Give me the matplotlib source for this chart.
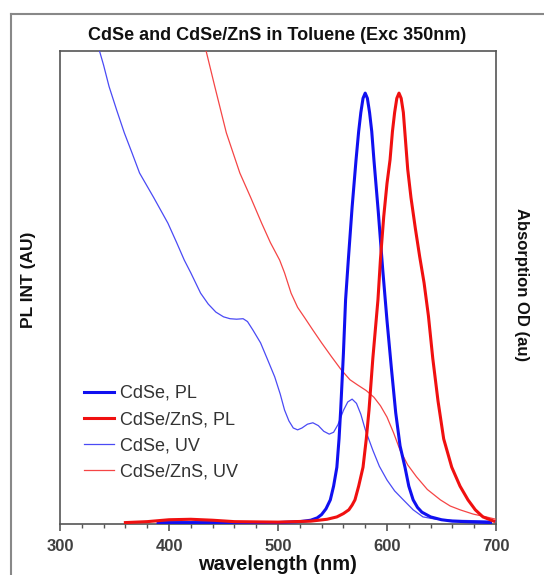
import matplotlib
matplotlib.use("Agg")
import matplotlib.pyplot as plt
from matplotlib.lines import Line2D
from matplotlib.ticker import MultipleLocator

plt.rcParams['font.family'] = ['Liberation Sans', 'DejaVu Sans']

# ---- data ----
cdse_pl_wl = [390, 450, 500, 520, 530, 536, 540, 544, 548, 551, 554, 556, 557.5, 560, 562, 564.5,
              568, 571.6, 574, 576, 578, 580, 582, 584, 586, 588, 592, 596, 600, 604, 608, 612,
              616.5, 620, 624, 628, 632, 640, 650, 660, 695]
cdse_pl = [0.003, 0.003, 0.003, 0.005, 0.008, 0.013, 0.02, 0.032, 0.051, 0.08, 0.12, 0.18, 0.241,
           0.36, 0.474, 0.558, 0.67, 0.77, 0.83, 0.87, 0.90, 0.911, 0.90, 0.87, 0.83, 0.77, 0.66,
           0.54, 0.43, 0.33, 0.235, 0.165, 0.12, 0.08, 0.051, 0.035, 0.025, 0.015, 0.009, 0.006,
           0.003]

zns_pl_wl = [360, 380, 400, 420, 440, 460, 500, 530, 545, 554, 560, 565, 568, 570.6, 574, 578,
             581, 583.5, 587, 591.7, 594, 597, 600, 602.8, 605, 607, 609, 611, 613, 615, 617,
             619, 622, 626, 630, 634, 638, 642, 646.8, 652, 659.4, 667, 674.3, 681, 688, 698]
zns_pl = [0.003, 0.005, 0.009, 0.010, 0.008, 0.005, 0.004, 0.006, 0.010, 0.015, 0.022, 0.03,
          0.04, 0.051, 0.08, 0.12, 0.18, 0.241, 0.35, 0.474, 0.56, 0.65, 0.72, 0.77, 0.83, 0.87,
          0.90, 0.911, 0.90, 0.87, 0.81, 0.75, 0.69, 0.625, 0.565, 0.51, 0.44, 0.35, 0.26, 0.18,
          0.12, 0.08, 0.051, 0.03, 0.015, 0.006]

cdse_uv_wl = [335, 340, 345, 352, 359, 366, 373, 386, 399, 407, 414, 420, 429, 436, 443, 450,
              456, 462, 468, 472, 477, 484, 490, 497, 502, 506, 510, 514, 518, 522, 527, 532, 537,
              542, 547, 551, 555, 560, 564, 568, 572, 576, 580, 587, 593, 600, 607, 615, 624, 633,
              645, 660, 700]
cdse_uv = [1.01, 0.97, 0.925, 0.875, 0.827, 0.785, 0.742, 0.69, 0.636, 0.595, 0.558, 0.531,
           0.488, 0.465, 0.448, 0.438, 0.434, 0.433, 0.434, 0.428, 0.41, 0.383, 0.35, 0.311,
           0.275, 0.241, 0.218, 0.203, 0.199, 0.203, 0.211, 0.214, 0.208, 0.196, 0.19, 0.194,
           0.21, 0.24, 0.258, 0.264, 0.255, 0.232, 0.2, 0.156, 0.122, 0.093, 0.07, 0.051, 0.03,
           0.015, 0.01, 0.008, 0.006]

zns_uv_wl = [433, 442, 452.6, 465, 475, 485, 493, 501.5, 506, 512, 518, 524.5, 532, 540, 549,
             558, 566, 573, 581, 588, 594, 600, 606, 612, 619, 627, 637, 649, 658, 667, 679, 691,
             700]
zns_uv = [1.01, 0.925, 0.827, 0.742, 0.69, 0.636, 0.595, 0.558, 0.531, 0.488, 0.458, 0.436, 0.41,
          0.383, 0.354, 0.326, 0.305, 0.294, 0.282, 0.268, 0.25, 0.226, 0.193, 0.156, 0.125, 0.10,
          0.073, 0.051, 0.038, 0.03, 0.021, 0.015, 0.010]

labels = ["CdSe, PL", "CdSe/ZnS, PL", "CdSe, UV", "CdSe/ZnS, UV"]
x_ticks = [300, 400, 500, 600, 700]

title = "CdSe and CdSe/ZnS in Toluene (Exc 350nm)"

# ---- figure ----
W, H = 544, 575
fig = plt.figure(figsize=(W / 100, H / 100), dpi=100)
ax = fig.add_axes([60 / W, 1 - 524 / H, 436 / W, 473 / H])

blue_thick = "#1010f0"
red_thick = "#f01010"
blue_thin = "#4a4af5"
red_thin = "#f54545"

ax.plot(cdse_pl_wl, cdse_pl, color=blue_thick, lw=2.2, label=labels[0], zorder=4)
ax.plot(zns_pl_wl, zns_pl, color=red_thick, lw=2.2, label=labels[1], zorder=4)
ax.plot(cdse_uv_wl, cdse_uv, color=blue_thin, lw=0.9, label=labels[2], zorder=3)
ax.plot(zns_uv_wl, zns_uv, color=red_thin, lw=0.9, label=labels[3], zorder=3)

ax.set_xlim(300, 700)
ax.set_ylim(0, 1)
ax.set_xticks(x_ticks)
ax.xaxis.set_minor_locator(MultipleLocator(20))
ax.set_yticks([])
for s in ax.spines.values():
    s.set_color("#555555")
    s.set_linewidth(1.2)
ax.tick_params(axis='x', which='major', direction='out', length=5, width=1.2,
               color="#555555", labelsize=12, labelcolor="#404040", pad=6)
ax.tick_params(axis='x', which='minor', direction='out', length=3, width=1.0, color="#555555")
for t in ax.get_xticklabels():
    t.set_fontweight('bold')

leg = ax.legend(loc='upper left', bbox_to_anchor=((84 - 60) / 436, (524 - 385) / 473),
                frameon=False, fontsize=13, handlelength=1.65, handletextpad=0.35,
                labelspacing=0.5, borderpad=0, borderaxespad=0)
for t in leg.get_texts():
    t.set_color("#333333")

# ---- texts ----
fig.text(277 / W, 1 - 36 / H, title, ha='center', va='center', fontsize=13,
         fontweight='bold', color='#111111')
fig.text(278 / W, 1 - 564 / H, "wavelength (nm)", ha='center', va='center', fontsize=14.5,
         fontweight='bold', color='#111111')
fig.text(29 / W, 1 - 280 / H, "PL INT (AU)", ha='center', va='center', rotation=90,
         fontsize=12.5, fontweight='bold', color='#111111')
fig.text(522 / W, 1 - 285 / H, "Absorption OD (au)", ha='center', va='center', rotation=270,
         fontsize=12, fontweight='bold', color='#111111')

# outer frame (left and top edges visible)
fig.add_artist(Line2D([11 / W, 11 / W], [0, 1 - 14 / H], transform=fig.transFigure,
                      color='#888888', lw=1.5))
fig.add_artist(Line2D([11 / W, 1], [1 - 14 / H, 1 - 14 / H], transform=fig.transFigure,
                      color='#888888', lw=1.5))

fig.savefig("out.png", dpi=100)
